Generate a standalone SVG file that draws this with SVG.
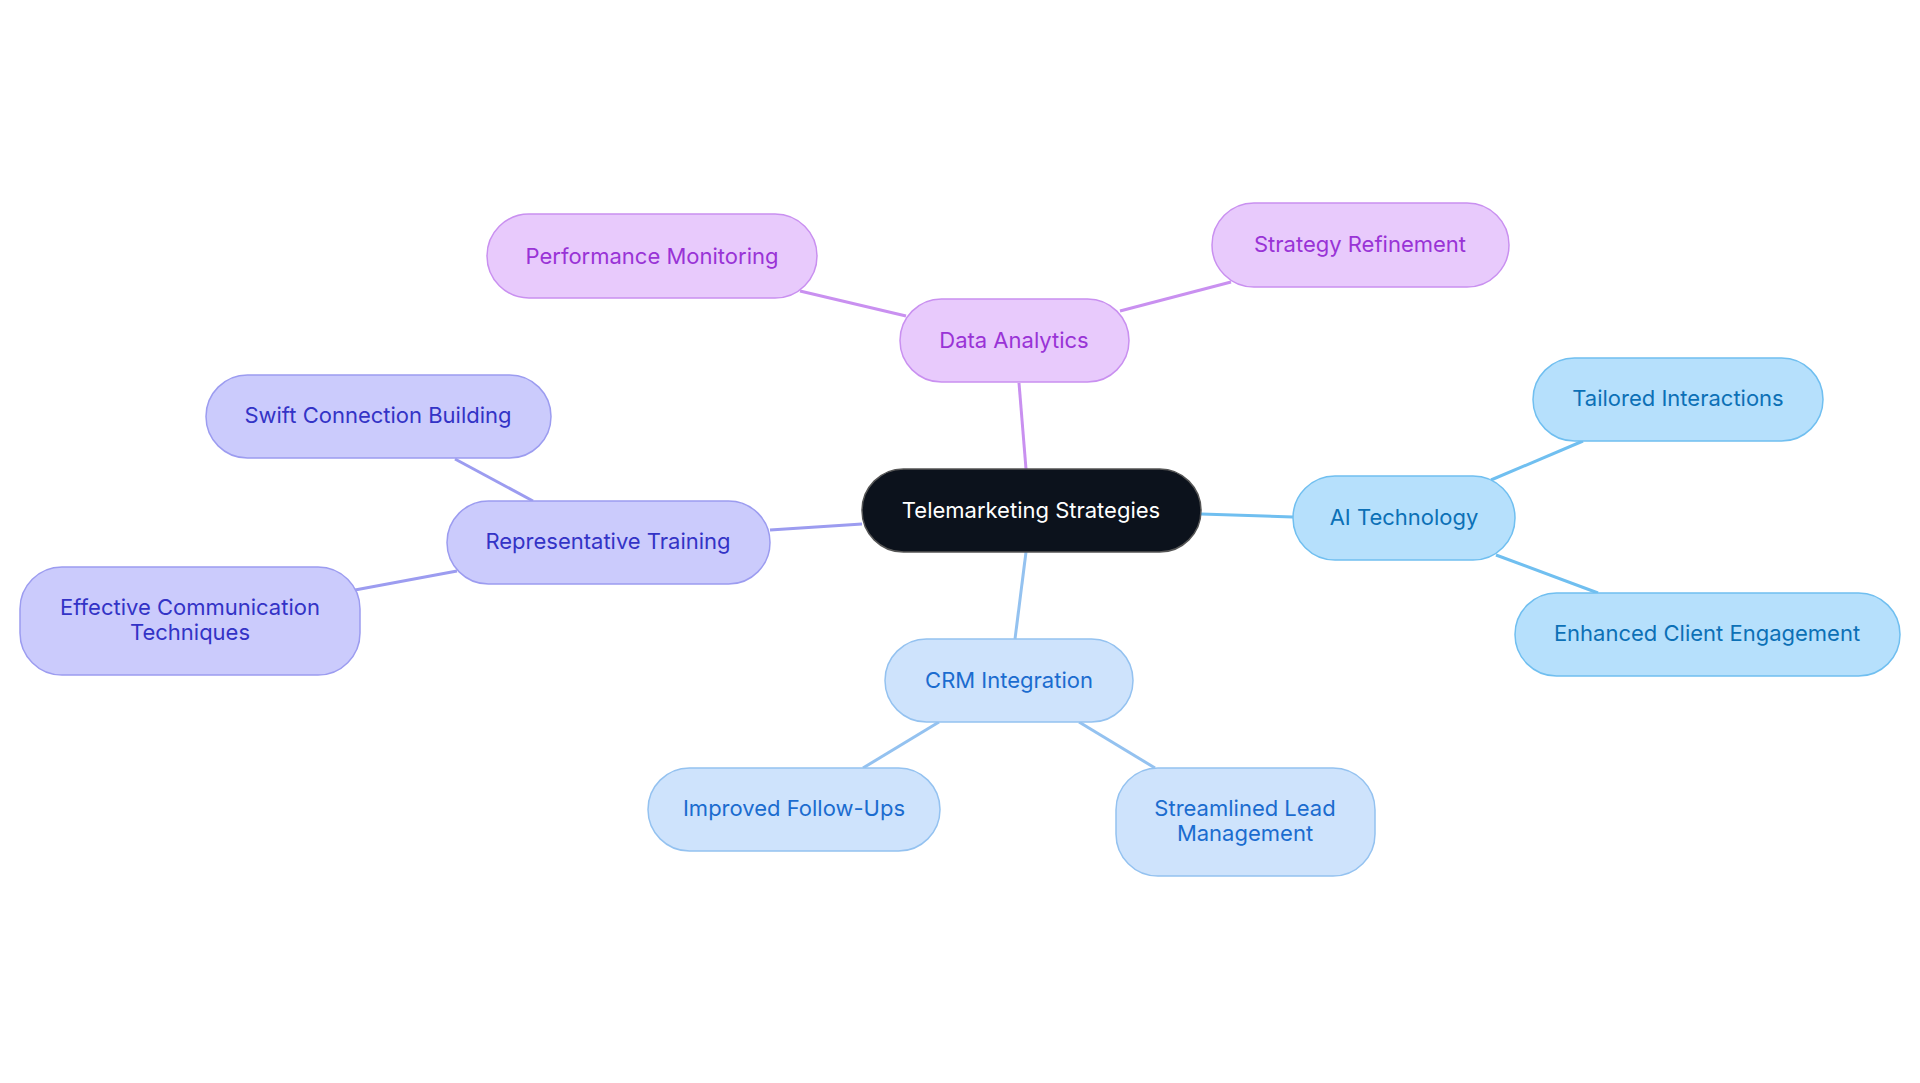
<svg xmlns="http://www.w3.org/2000/svg" width="1920" height="1083" viewBox="0 0 1920 1083">
<style>
text{font-family:Inter,"Noto Sans",sans-serif;font-size:22px;text-anchor:middle;dominant-baseline:central}
.p rect{fill:#e8cafc;stroke:#c990f0;stroke-width:1.5}.p text{fill:#9933d6}
.i rect{fill:#cbcbfc;stroke:#9c9cf0;stroke-width:1.5}.i text{fill:#3333c6}
.c rect{fill:#b6e0fc;stroke:#70bff0;stroke-width:1.5}.c text{fill:#0c70b6}
.b rect{fill:#cee3fc;stroke:#94c2f0;stroke-width:1.5}.b text{fill:#1b6ccf}
.l{stroke-width:3;fill:none}
</style>
<rect width="1920" height="1083" fill="#fff"/>
<g id="connectors">
<line class="l" stroke="#c990f0" x1="1026" y1="469" x2="1019" y2="383"/>
<line class="l" stroke="#9c9cf0" x1="862" y1="524" x2="770" y2="530"/>
<line class="l" stroke="#70bff0" x1="1201" y1="514" x2="1293" y2="517"/>
<line class="l" stroke="#94c2f0" x1="1026" y1="552" x2="1015" y2="639"/>
<line class="l" stroke="#c990f0" x1="906" y1="316" x2="800" y2="291"/>
<line class="l" stroke="#c990f0" x1="1120" y1="311" x2="1231" y2="282"/>
<line class="l" stroke="#9c9cf0" x1="533" y1="501" x2="455" y2="459"/>
<line class="l" stroke="#9c9cf0" x1="457" y1="571" x2="355" y2="590"/>
<line class="l" stroke="#70bff0" x1="1491" y1="480" x2="1583" y2="441"/>
<line class="l" stroke="#70bff0" x1="1496" y1="555" x2="1598" y2="593"/>
<line class="l" stroke="#94c2f0" x1="939" y1="722" x2="863" y2="768"/>
<line class="l" stroke="#94c2f0" x1="1079" y1="722" x2="1155" y2="768"/>
</g>
<g id="center"><rect x="862" y="469" width="339" height="83" rx="41.5" fill="#0c121c" stroke="#555" stroke-width="1.5"/><text x="1031" y="510" fill="#fff">Telemarketing Strategies</text></g>
<g id="da" class="p"><rect x="900" y="299" width="229" height="83" rx="41.5"/><text x="1014" y="340">Data Analytics</text></g>
<g id="pm" class="p"><rect x="487" y="214" width="330" height="84" rx="42"/><text x="652" y="256">Performance Monitoring</text></g>
<g id="sr" class="p"><rect x="1212" y="203" width="297" height="84" rx="42"/><text x="1360" y="244">Strategy Refinement</text></g>
<g id="rt" class="i"><rect x="447" y="501" width="323" height="83" rx="41.5"/><text x="608" y="541">Representative Training</text></g>
<g id="scb" class="i"><rect x="206" y="375" width="345" height="83" rx="41.5"/><text x="378" y="415">Swift Connection Building</text></g>
<g id="ect" class="i"><rect x="20" y="567" width="340" height="108" rx="42"/><text x="190" y="607">Effective Communication</text><text x="190" y="632">Techniques</text></g>
<g id="ai" class="c"><rect x="1293" y="476" width="222" height="84" rx="42"/><text x="1404" y="517">AI Technology</text></g>
<g id="ti" class="c"><rect x="1533" y="358" width="290" height="83" rx="41.5"/><text x="1678" y="398">Tailored Interactions</text></g>
<g id="ece" class="c"><rect x="1515" y="593" width="385" height="83" rx="41.5"/><text x="1707" y="633">Enhanced Client Engagement</text></g>
<g id="crm" class="b"><rect x="885" y="639" width="248" height="83" rx="41.5"/><text x="1009" y="680">CRM Integration</text></g>
<g id="ifu" class="b"><rect x="648" y="768" width="292" height="83" rx="41.5"/><text x="794" y="808">Improved Follow-Ups</text></g>
<g id="slm" class="b"><rect x="1116" y="768" width="259" height="108" rx="42"/><text x="1245" y="808">Streamlined Lead</text><text x="1245" y="833">Management</text></g>
</svg>
